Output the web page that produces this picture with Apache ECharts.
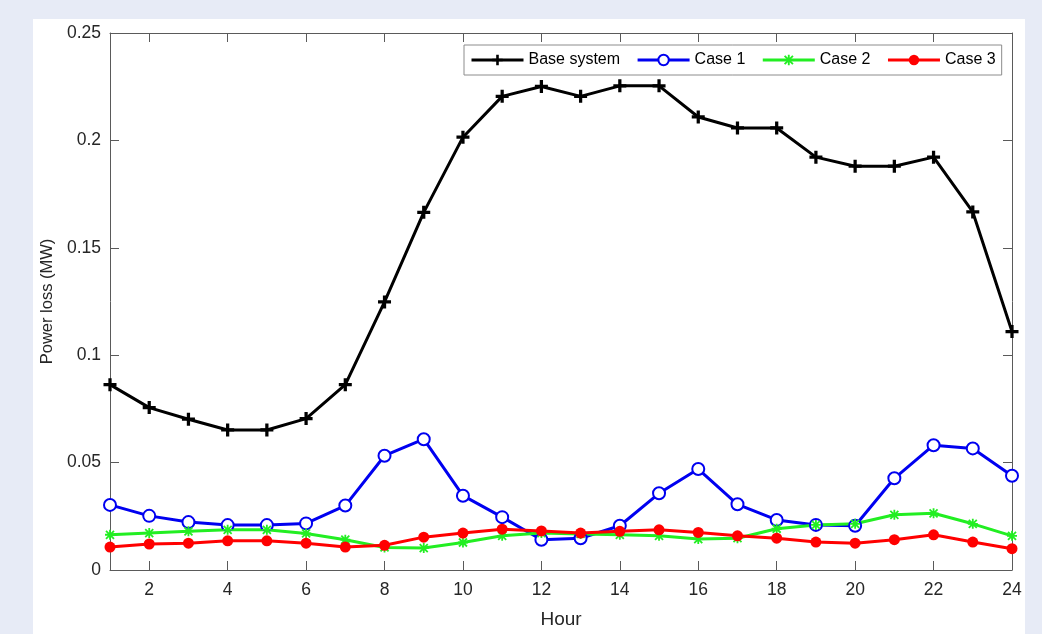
<!DOCTYPE html>
<html>
<head>
<meta charset="utf-8">
<title>Power loss per hour</title>
<script src="https://cdn.jsdelivr.net/npm/echarts@6/dist/echarts.min.js"></script>
<style>
  html, body { margin: 0; padding: 0; background: #e7ebf6; }
  #chart { width: 1042px; height: 634px; }
</style>
</head>
<body>
<div id="chart"></div>
<script>
// Hourly power loss (MW) for the base system and three cases
const hours = [1,2,3,4,5,6,7,8,9,10,11,12,13,14,15,16,17,18,19,20,21,22,23,24];
const baseSystem = [0.0863,0.0756,0.0702,0.0652,0.0652,0.0705,0.0863,0.1248,0.1665,0.2015,0.2205,0.2251,0.2205,0.2254,0.2254,0.2109,0.2058,0.2058,0.1922,0.1880,0.1880,0.1922,0.1667,0.1110];
const case1 = [0.0303,0.0252,0.0223,0.0209,0.0209,0.0217,0.0300,0.0532,0.0609,0.0346,0.0246,0.0141,0.0148,0.0206,0.0357,0.0470,0.0306,0.0233,0.0210,0.0206,0.0427,0.0581,0.0566,0.0439];
const case2 = [0.0164,0.0172,0.0180,0.0187,0.0187,0.0170,0.0141,0.0105,0.0102,0.0128,0.0159,0.0172,0.0168,0.0164,0.0159,0.0144,0.0148,0.0192,0.0210,0.0215,0.0257,0.0264,0.0215,0.0159];
const case3 = [0.0107,0.0121,0.0125,0.0136,0.0136,0.0125,0.0107,0.0115,0.0153,0.0172,0.0190,0.0182,0.0172,0.0180,0.0187,0.0175,0.0159,0.0148,0.0130,0.0125,0.0141,0.0164,0.0130,0.0099];
const xTicks = [2,4,6,8,10,12,14,16,18,20,22,24];
const seriesNames = ['Base system', 'Case 1', 'Case 2', 'Case 3'];

// marker shapes: thick plus and eight-armed asterisk
const plusPath = 'path://M3.75,0H6.25V3.75H10V6.25H6.25V10H3.75V6.25H0V3.75H3.75Z';
const starPath = 'path://M4.1,0H5.9V10H4.1Z M0,4.1H10V5.9H0Z M1.64,0.36L9.64,8.36L8.36,9.64L0.36,1.64Z M8.36,0.36L9.64,1.64L1.64,9.64L0.36,8.36Z';

const pairs = vals => hours.map((h, i) => [h, vals[i]]);
const font = 'Liberation Sans, Arial, Helvetica, sans-serif';
const boxColor = '#5a5a5a';
const textColor = '#262626';

const chart = echarts.init(document.getElementById('chart'), null, { renderer: 'canvas' });

function lineSeries(name, vals, color, symbol, size, item) {
  return {
    name: name,
    type: 'line',
    data: pairs(vals),
    symbol: symbol,
    symbolSize: size,
    showAllSymbol: true,
    lineStyle: { color: color, width: 3 },
    itemStyle: Object.assign({ color: color, borderColor: color, borderWidth: 0 }, item || {}),
    emphasis: { disabled: true },
    z: 3
  };
}

function axisParts(ticks) {
  const tick = { show: true, inside: true, length: 9, lineStyle: { color: boxColor, width: 1 } };
  if (ticks) tick.customValues = ticks;
  return {
    axisLine: { show: true, onZero: false, lineStyle: { color: boxColor, width: 1 } },
    axisTick: tick,
    splitLine: { show: false }
  };
}

chart.setOption({
  animation: false,
  backgroundColor: 'transparent',
  graphic: [{
    type: 'rect', z: -10, silent: true,
    shape: { x: 33, y: 19, width: 992, height: 615 },
    style: { fill: '#ffffff' }
  }],
  grid: { left: 110, top: 33, right: 30, bottom: 62, containLabel: false },
  legend: {
    data: seriesNames,
    left: 464, top: 45,
    orient: 'horizontal',
    backgroundColor: '#ffffff',
    borderColor: '#8c8c8c', borderWidth: 1,
    padding: [7, 6, 7, 6],
    itemWidth: 52, itemHeight: 13, itemGap: 16,
    lineStyle: { width: 3 },
    textStyle: { fontFamily: font, fontSize: 16, color: '#000' },
    selectedMode: false
  },
  xAxis: [
    Object.assign({
      type: 'value', min: 1, max: 24, position: 'bottom',
      name: 'Hour', nameLocation: 'middle', nameGap: 40,
      nameTextStyle: { fontFamily: font, fontSize: 19, color: textColor },
      axisLabel: { customValues: xTicks, margin: 11, fontFamily: font, fontSize: 17.5, color: textColor }
    }, axisParts(xTicks)),
    Object.assign({
      type: 'value', min: 1, max: 24, position: 'top',
      axisLabel: { show: false }
    }, axisParts(xTicks))
  ],
  yAxis: [
    Object.assign({
      type: 'value', min: 0, max: 0.25, interval: 0.05, position: 'left',
      name: 'Power loss (MW)', nameLocation: 'middle', nameGap: 53, nameRotate: 90,
      nameTextStyle: { fontFamily: font, fontSize: 16.5, color: textColor },
      axisLabel: { margin: 9, fontFamily: font, fontSize: 17.5, color: textColor }
    }, axisParts(null)),
    Object.assign({
      type: 'value', min: 0, max: 0.25, interval: 0.05, position: 'right',
      axisLabel: { show: false }
    }, axisParts(null))
  ],
  series: [
    lineSeries('Base system', baseSystem, '#000000', plusPath, 13),
    lineSeries('Case 1', case1, '#0000f0', 'emptyCircle', 12, { borderWidth: 3 }),
    lineSeries('Case 2', case2, '#22ee22', starPath, 10),
    lineSeries('Case 3', case3, '#ff0000', 'circle', 11)
  ]
});
</script>
</body>
</html>
